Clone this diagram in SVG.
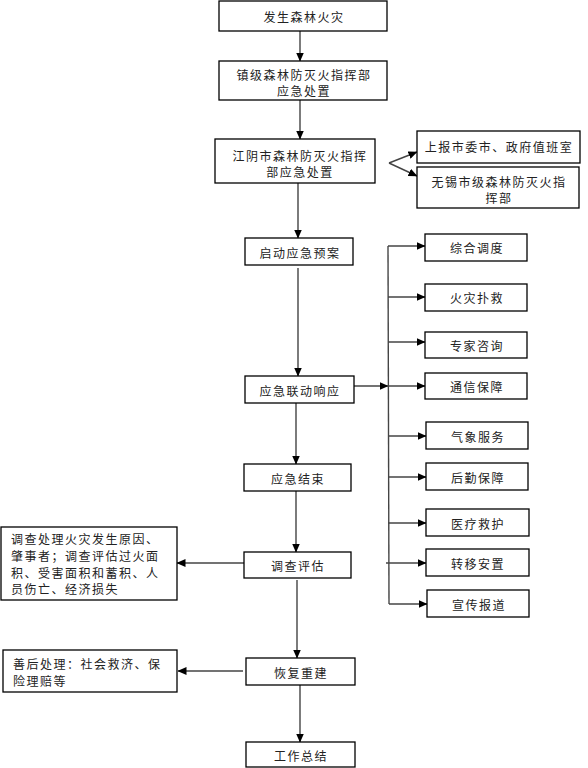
<svg xmlns="http://www.w3.org/2000/svg" width="588" height="768" viewBox="0 0 588 768">
<style>
.b{fill:#fff;stroke:#000;stroke-width:1.3}
.t{font-family:"Noto Sans CJK SC","Noto Sans CJK JP",sans-serif;font-size:12px;fill:#222;letter-spacing:1.5px;text-anchor:middle;dominant-baseline:central}
.l{text-anchor:start}
.c{stroke:#444;stroke-width:1.4;fill:none}
.a{marker-end:url(#ah)}
</style>
<defs>
<marker id="ah" markerUnits="userSpaceOnUse" markerWidth="9" markerHeight="8" refX="8.5" refY="4" orient="auto">
<path d="M0,0 L9,4 L0,8 z" fill="#000"/>
</marker>
</defs>
<g id="connectors">
<line class="c a" x1="300" y1="31" x2="300" y2="61"/>
<line class="c a" x1="300" y1="100" x2="300" y2="139"/>
<line class="c a" x1="389" y1="163" x2="417" y2="152"/>
<line class="c a" x1="389" y1="163" x2="417" y2="176"/>
<line class="c a" x1="298" y1="183" x2="298" y2="238"/>
<line class="c a" x1="298" y1="268" x2="298" y2="376"/>
<line class="c a" x1="354" y1="386" x2="388" y2="386"/>
<line class="c" x1="388" y1="246" x2="389" y2="604"/>
<line class="c a" x1="388" y1="246" x2="425" y2="246"/>
<line class="c a" x1="388" y1="297" x2="425" y2="297"/>
<line class="c a" x1="388" y1="342" x2="425" y2="342"/>
<line class="c a" x1="388" y1="386" x2="425" y2="386"/>
<line class="c a" x1="388" y1="436" x2="426" y2="436"/>
<line class="c a" x1="388" y1="477" x2="426" y2="477"/>
<line class="c a" x1="388" y1="523" x2="426" y2="523"/>
<line class="c a" x1="386" y1="563" x2="426" y2="563"/>
<line class="c a" x1="389" y1="604" x2="427" y2="604"/>
<line class="c a" x1="296" y1="403" x2="296" y2="464"/>
<line class="c a" x1="296" y1="491" x2="296" y2="552"/>
<line class="c a" x1="244" y1="563" x2="177" y2="563"/>
<line class="c a" x1="297" y1="580" x2="297" y2="658"/>
<line class="c a" x1="243" y1="671" x2="178" y2="671"/>
<line class="c a" x1="300" y1="685" x2="300" y2="742"/>
</g>
<g id="n1"><rect class="b" x="219" y="1" width="168" height="30"/><text class="t" x="304" y="16">发生森林火灾</text></g>
<g id="n2"><rect class="b" x="219" y="61" width="168" height="39"/><text class="t" x="304" y="74">镇级森林防灭火指挥部</text><text class="t" x="304" y="90">应急处置</text></g>
<g id="n3"><rect class="b" x="215" y="139" width="160" height="44"/><text class="t" x="300" y="155">江阴市森林防灭火指挥</text><text class="t" x="300" y="171">部应急处置</text></g>
<g id="n4"><rect class="b" x="417" y="131" width="163" height="32"/><text class="t" x="499" y="146">上报市委市、政府值班室</text></g>
<g id="n5"><rect class="b" x="417" y="167" width="162" height="41"/><text class="t" x="499" y="181">无锡市级森林防灭火指</text><text class="t" x="499" y="197">挥部</text></g>
<g id="n6"><rect class="b" x="245" y="238" width="108" height="27"/><text class="t" x="300" y="252">启动应急预案</text></g>
<g id="n7"><rect class="b" x="245" y="376" width="109" height="27"/><text class="t" x="300" y="390">应急联动响应</text></g>
<g id="n8"><rect class="b" x="425" y="234" width="102" height="27"/><text class="t" x="477" y="247">综合调度</text></g>
<g id="n9"><rect class="b" x="425" y="284" width="102" height="27"/><text class="t" x="477" y="297">火灾扑救</text></g>
<g id="n10"><rect class="b" x="425" y="332" width="102" height="26"/><text class="t" x="477" y="345">专家咨询</text></g>
<g id="n11"><rect class="b" x="425" y="373" width="102" height="26"/><text class="t" x="477" y="386">通信保障</text></g>
<g id="n12"><rect class="b" x="426" y="422" width="102" height="27"/><text class="t" x="478" y="436">气象服务</text></g>
<g id="n13"><rect class="b" x="426" y="463" width="102" height="27"/><text class="t" x="478" y="477">后勤保障</text></g>
<g id="n14"><rect class="b" x="426" y="509" width="103" height="27"/><text class="t" x="478" y="523">医疗救护</text></g>
<g id="n15"><rect class="b" x="426" y="549" width="103" height="27"/><text class="t" x="478" y="563">转移安置</text></g>
<g id="n16"><rect class="b" x="427" y="590" width="102" height="27"/><text class="t" x="479" y="604">宣传报道</text></g>
<g id="n17"><rect class="b" x="244" y="464" width="107" height="27"/><text class="t" x="298" y="478">应急结束</text></g>
<g id="n18"><rect class="b" x="244" y="552" width="107" height="26"/><text class="t" x="298" y="565">调查评估</text></g>
<g id="n19"><rect class="b" x="1" y="527" width="176" height="73"/><text class="t l" x="11" y="538">调查处理火灾发生原因、</text><text class="t l" x="11" y="555">肇事者；调查评估过火面</text><text class="t l" x="11" y="572">积、受害面积和蓄积、人</text><text class="t l" x="11" y="588">员伤亡、经济损失</text></g>
<g id="n20"><rect class="b" x="246" y="658" width="109" height="27"/><text class="t" x="301" y="672">恢复重建</text></g>
<g id="n21"><rect class="b" x="3" y="650" width="174" height="42"/><text class="t l" x="13" y="663">善后处理：社会救济、保</text><text class="t l" x="13" y="680">险理赔等</text></g>
<g id="n22"><rect class="b" x="246" y="742" width="109" height="25"/><text class="t" x="301" y="755">工作总结</text></g>
</svg>
